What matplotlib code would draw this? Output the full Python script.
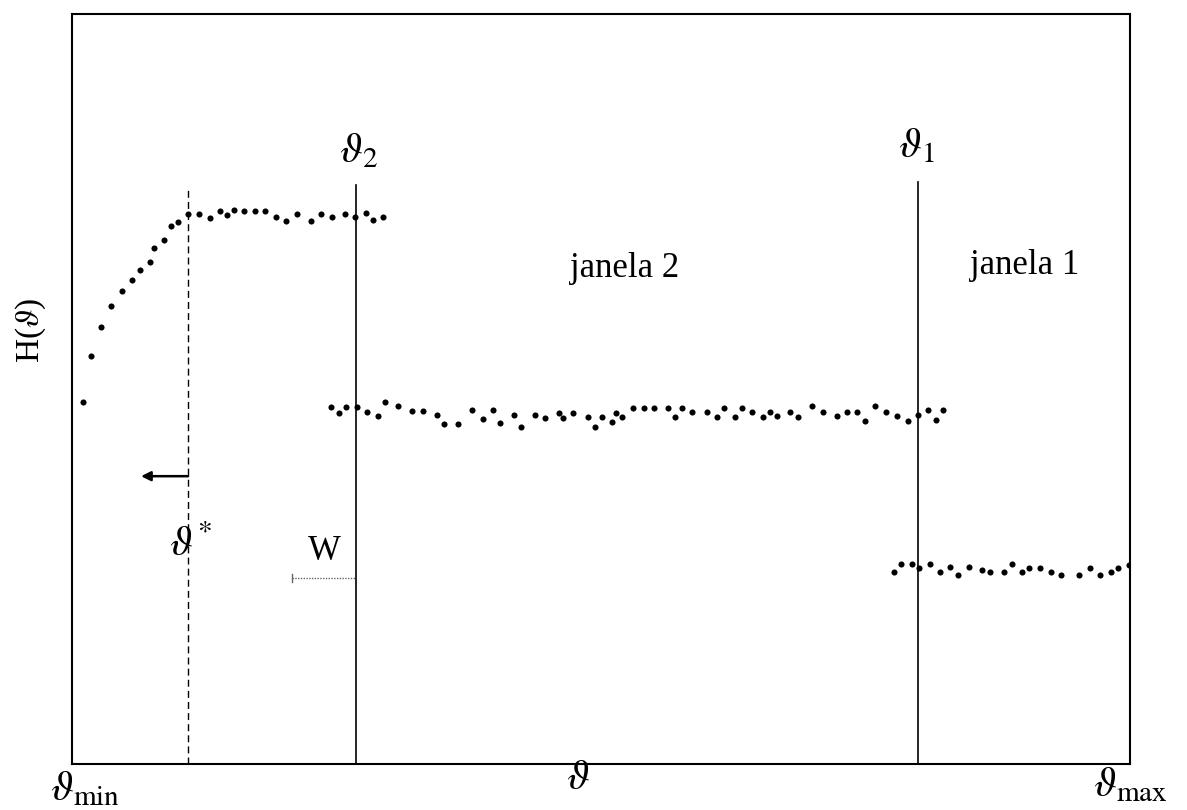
import matplotlib.pyplot as plt

plt.rcParams['mathtext.fontset'] = 'stix'
plt.rcParams['font.family'] = ['Liberation Serif', 'DejaVu Serif']

# janela 2 (curva de cima, antes de theta_2)
x_sup = [11, 19, 29, 39, 50, 60, 68, 78, 82, 92, 99, 106, 116, 127, 138, 148,
         155, 162, 172, 183, 193, 204, 214, 225, 239, 249, 260, 273, 283, 294,
         301, 311]
h_sup = [362, 408, 437, 458, 473, 484, 494, 502, 516, 524, 538, 542, 550, 550,
         546, 553, 549, 554, 553, 553, 553, 547, 543, 550, 543, 550, 547, 550,
         547, 551, 544, 547]

# janela 1 (patamar do meio)
x_med = [259, 267, 274, 285, 295, 306, 313, 326, 340, 351, 365, 372, 386, 400,
         411, 421, 428, 442, 449, 463, 473, 487, 491, 501, 516, 523, 530, 540,
         544, 550, 561, 572, 582, 596, 603, 610, 620, 635, 645, 652, 663, 670,
         680, 691, 698, 705, 718, 726, 740, 751, 765, 775, 785, 793, 803, 814,
         825, 836, 846, 856, 864, 871]
h_med = [357, 351, 357, 357, 352, 348, 362, 358, 353, 353, 349, 340, 340, 354,
         345, 354, 341, 349, 337, 349, 346, 351, 346, 351, 347, 337, 347, 342,
         351, 347, 356, 356, 356, 356, 347, 356, 352, 352, 347, 356, 347, 356,
         352, 347, 352, 348, 352, 347, 358, 352, 348, 352, 352, 343, 358, 352,
         348, 343, 349, 354, 344, 354]

# patamar de baixo (perto de theta_max)
x_inf = [822, 829, 840, 847, 858, 868, 878, 886, 897, 910, 918, 932, 940, 950,
         957, 968, 979, 989, 1007, 1018, 1028, 1039, 1046, 1057]
h_inf = [192, 200, 200, 196, 200, 192, 197, 189, 197, 194, 192, 192, 200, 192,
         196, 196, 192, 189, 189, 196, 189, 192, 196, 199]

theta_star = 116
theta_2 = 284
theta_1 = 846
x_max = 1058
y_max = 750
w_inicio = 220

fig = plt.figure(figsize=(11.87, 8.10), dpi=100)
ax = fig.add_axes([0.0607, 0.0568, 0.8913, 0.9253])

for xs, hs in [(x_sup, h_sup), (x_med, h_med), (x_inf, h_inf)]:
    ax.plot(xs, hs, 'o', color='black', ms=4.4, mec='none')

ax.plot([theta_star, theta_star], [0, 574], color='black', lw=1, ls=(0, (5, 3)))
ax.plot([theta_2, theta_2], [0, 579], color='black', lw=1.2)
ax.plot([theta_1, theta_1], [0, 582], color='black', lw=1.2)

# seta para a esquerda a partir de theta*
ax.annotate('', xy=(69, 288), xytext=(theta_star, 288),
            arrowprops=dict(arrowstyle='-|>', color='black', lw=1.8,
                            mutation_scale=14, shrinkA=0, shrinkB=0))

# largura W
ax.plot([w_inicio, theta_2], [186, 186], color='0.4', lw=1, ls=(0, (1, 1)))
ax.plot([w_inicio, w_inicio], [182, 190], color='0.4', lw=1)
ax.text(252, 196, 'W', fontsize=25, ha='center', va='bottom')

ax.text(theta_2 + 2, 612, r'$\vartheta_2$', fontsize=30, ha='center', va='center')
ax.text(theta_1 - 2, 617, r'$\vartheta_1$', fontsize=30, ha='center', va='center')
ax.text(theta_star + 3, 219, r'$\vartheta^{\!*}$', fontsize=30, ha='center', va='center')
ax.text(553, 496, 'janela 2', fontsize=25, ha='center', va='center')
ax.text(953, 499, 'janela 1', fontsize=25, ha='center', va='center')

ax.set_xlim(0, x_max)
ax.set_ylim(0, y_max)
ax.set_xticks([])
ax.set_yticks([])
for s in ax.spines.values():
    s.set_linewidth(1.5)

fig.text(0.026, 0.592, r'H($\vartheta$)', fontsize=24, rotation=90,
         ha='center', va='center')
fig.text(0.072, 0.025, r'$\vartheta_{\mathrm{min}}$', fontsize=30, ha='center', va='center')
fig.text(0.487, 0.038, r'$\vartheta$', fontsize=30, ha='center', va='center')
fig.text(0.952, 0.03, r'$\vartheta_{\mathrm{max}}$', fontsize=30, ha='center', va='center')

fig.savefig('out.png', dpi=100)
